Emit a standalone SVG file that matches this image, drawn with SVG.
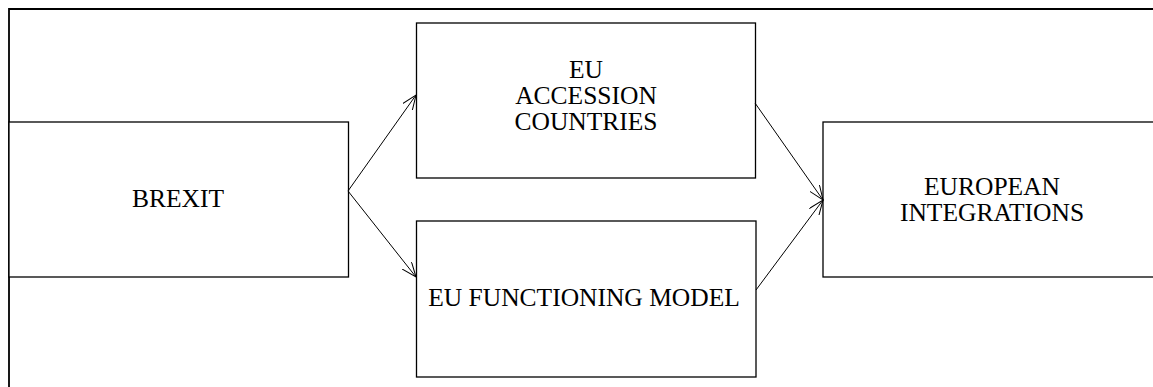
<svg xmlns="http://www.w3.org/2000/svg" width="1153" height="387" viewBox="0 0 1153 387">
<style>
.box{fill:#fff;stroke:#000;stroke-width:1.3}
.frame{fill:none;stroke:#000;stroke-width:1.8}
.lbl{font-family:"Liberation Serif","Times New Roman",serif;font-size:25.5px;fill:#000;text-anchor:middle}
.conn{fill:none;stroke:#000;stroke-width:1}
</style>
<defs>
<marker id="arr" viewBox="0 0 16 12" refX="15" refY="6" markerWidth="16" markerHeight="12" markerUnits="userSpaceOnUse" orient="auto">
<polyline points="0,0 15,6 0,12" fill="none" stroke="#000" stroke-width="1"/>
</marker>
</defs>
<g id="frame">
<path class="frame" d="M9,387 V9 H1153"/>
</g>
<g id="brexit">
<rect class="box" x="9" y="122" width="339.5" height="155"/>
<text class="lbl" x="178" y="207">BREXIT</text>
</g>
<g id="accession">
<rect class="box" x="416.5" y="23" width="339" height="155"/>
<text class="lbl" x="586" y="78">EU</text>
<text class="lbl" x="586" y="104">ACCESSION</text>
<text class="lbl" x="586" y="130">COUNTRIES</text>
</g>
<g id="functioning">
<rect class="box" x="416.5" y="221" width="339.5" height="156"/>
<text class="lbl" x="584" y="306">EU FUNCTIONING MODEL</text>
</g>
<g id="european">
<rect class="box" x="823" y="122" width="340" height="155"/>
<text class="lbl" x="992" y="195">EUROPEAN</text>
<text class="lbl" x="992" y="221">INTEGRATIONS</text>
</g>
<g id="connectors">
<line class="conn" x1="348" y1="191" x2="416" y2="95" marker-end="url(#arr)"/>
<line class="conn" x1="348" y1="191" x2="416" y2="277" marker-end="url(#arr)"/>
<line class="conn" x1="755" y1="103" x2="823" y2="200" marker-end="url(#arr)"/>
<line class="conn" x1="756" y1="290" x2="823" y2="200" marker-end="url(#arr)"/>
</g>
</svg>
